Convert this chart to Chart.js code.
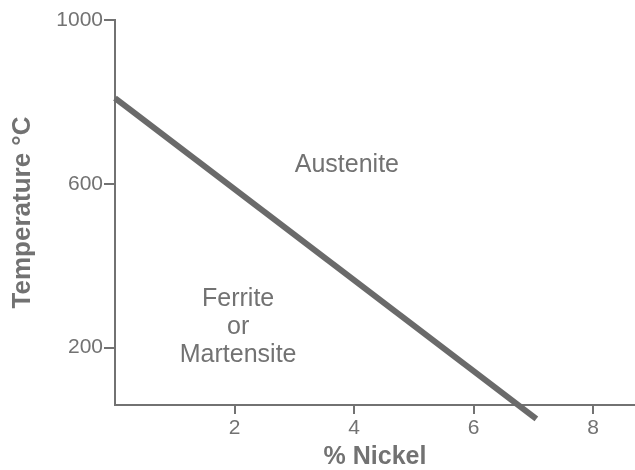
<!DOCTYPE html>
<html><head><meta charset="utf-8">
<script src="https://cdn.jsdelivr.net/npm/chart.js@4/dist/chart.umd.min.js"></script>
<style>html,body{margin:0;padding:0;background:#fff}#wrap{width:635px;height:470px;position:relative}</style>
</head><body><div id="wrap"><canvas id="c"></canvas></div>
<script>
// Data
const nickelPct = [0, 7.05];
const temperatureC = [809, 26];
const xTickValues = [2, 4, 6, 8];
const yTickValues = [200, 600, 1000];
const regionNames = [['Austenite'], ['Ferrite', 'or', 'Martensite']];
const regionNickel = [3.88, 2.06];
const regionTemp = [646, 250];

const GREY = '#727272';
const LINE = '#6a6a6a';
const FONT = "'Liberation Sans', Arial, sans-serif";

const regionLabelPlugin = {
  id: 'regionLabels',
  afterDatasetsDraw(chart) {
    const ctx = chart.ctx;
    const xs = chart.scales.x, ys = chart.scales.y;
    ctx.save();
    ctx.fillStyle = GREY;
    ctx.font = '25px ' + FONT;
    ctx.textAlign = 'center';
    ctx.textBaseline = 'middle';
    const lh = 28;
    regionNames.forEach((lines, i) => {
      const cx = xs.getPixelForValue(regionNickel[i]);
      const cy = ys.getPixelForValue(regionTemp[i]);
      const start = cy - (lines.length - 1) * lh / 2;
      lines.forEach((t, j) => ctx.fillText(t, cx, start + j * lh));
    });
    ctx.restore();
  }
};

new Chart(document.getElementById('c'), {
  type: 'scatter',
  data: {
    datasets: [{
      data: nickelPct.map((x, i) => ({x, y: temperatureC[i]})),
      showLine: true,
      borderColor: LINE,
      borderWidth: 6,
      borderCapStyle: 'butt',
      pointRadius: 0,
      clip: false
    }]
  },
  options: {
    responsive: true,
    maintainAspectRatio: false,
    devicePixelRatio: 1,
    animation: false,
    layout: {padding: {top: 20, right: 0, left: 0, bottom: 0}},
    plugins: {legend: {display: false}, tooltip: {enabled: false}},
    scales: {
      x: {
        type: 'linear', min: 0, max: 8.7,
        afterBuildTicks: s => { s.ticks = xTickValues.map(v => ({value: v})); },
        afterFit: s => { s.height = 65; },
        grid: {drawOnChartArea: false, drawTicks: true, tickLength: 9, color: GREY, lineWidth: 2},
        border: {color: GREY, width: 2},
        ticks: {color: GREY, font: {family: FONT, size: 21}, padding: 2, maxRotation: 0, callback: v => String(v)},
        title: {display: true, text: '% Nickel', color: GREY, font: {family: FONT, size: 25, weight: 'bold', lineHeight: 1}, padding: {top: 0, bottom: 0}}
      },
      y: {
        type: 'linear', min: 60, max: 1000,
        afterBuildTicks: s => { s.ticks = yTickValues.map(v => ({value: v})); },
        afterFit: s => { s.width = 115; },
        grid: {drawOnChartArea: false, drawTicks: true, tickLength: 11, color: GREY, lineWidth: 2},
        border: {color: GREY, width: 2},
        ticks: {color: GREY, font: {family: FONT, size: 21}, padding: 1, callback: v => String(v)},
        title: {display: true, text: 'Temperature °C', color: GREY, font: {family: FONT, size: 26, weight: 'bold', lineHeight: 1}, padding: {top: 10, bottom: 0}}
      }
    }
  },
  plugins: [regionLabelPlugin]
});
</script>
</body></html>
